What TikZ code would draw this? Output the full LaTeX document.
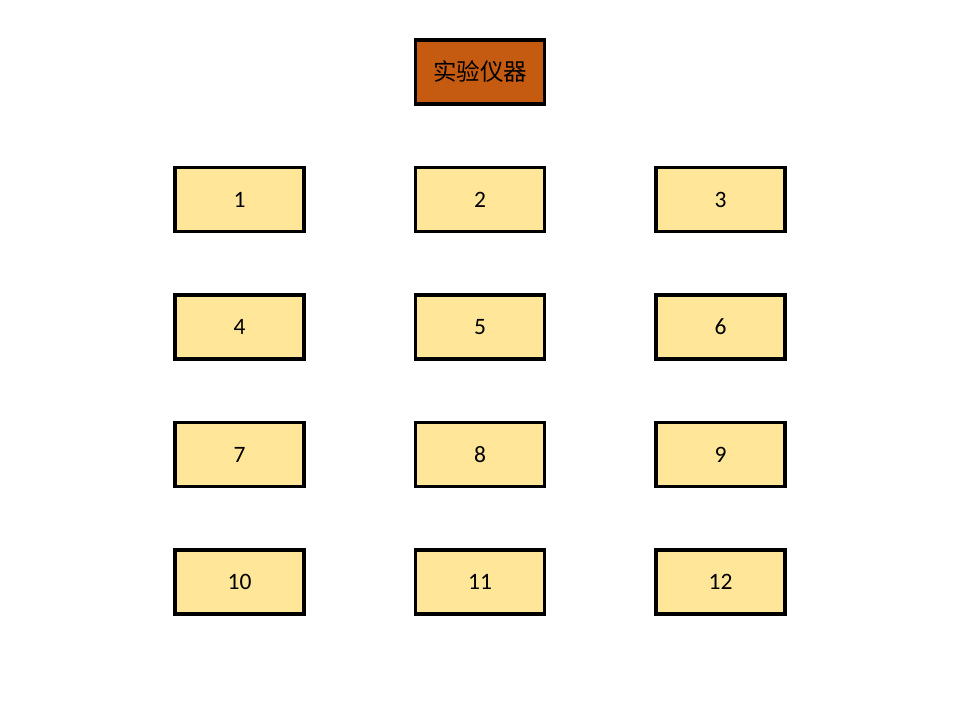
\documentclass[tikz,border=0pt]{standalone}
\usepackage{fontspec}
\setmainfont{Carlito}
\newfontfamily\cjk{Noto Sans CJK SC}
\definecolor{itemfill}{HTML}{FFE699}
\definecolor{headfill}{HTML}{C55A11}
\tikzset{
  itembox/.style={draw=black, line width=3.5pt, fill=itemfill, minimum width=129pt, minimum height=64pt, inner sep=0pt, font=\fontsize{23.5}{27}\selectfont},
  headbox/.style={itembox, fill=headfill, font=\cjk\fontsize{23.5}{27}\selectfont}
}
\begin{document}
\begin{tikzpicture}[x=1pt, y=-1pt]
  \useasboundingbox (0,0) rectangle (960,720);
  \node [headbox] (head) at (480,72) {实验仪器};
  \foreach \r in {0,...,3}
  {
    \foreach \c in {1,2,3}
    {
      \pgfmathtruncatemacro{\n}{3*\r+\c}
      \node [itembox] (item\n) at (239.5+240.5*\c-240.5, 199.5+127.5*\r) {\n};
    }
  }
\end{tikzpicture}
\end{document}
